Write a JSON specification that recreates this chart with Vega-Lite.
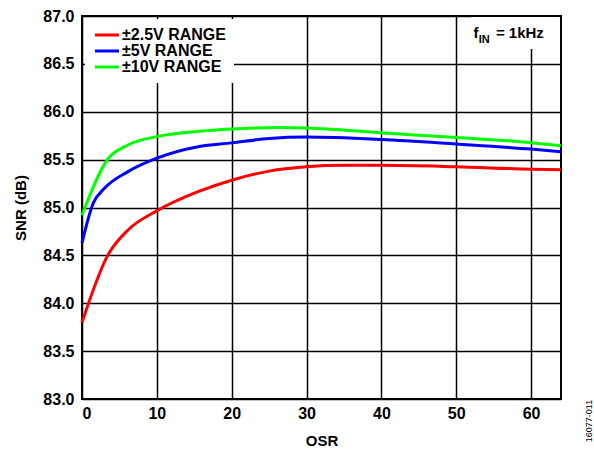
{
  "$schema": "https://vega.github.io/schema/vega-lite/v6.json",
  "width": 479,
  "height": 383,
  "autosize": "none",
  "padding": {"left": 82, "top": 16, "right": 33, "bottom": 53},
  "config": {
    "font": "Liberation Sans",
    "view": {"stroke": "#000000", "strokeWidth": 2},
    "axis": {
      "domain": false, "ticks": false, "grid": true, "gridColor": "#000000", "gridWidth": 1.5, "gridOpacity": 1,
      "labelFont": "Liberation Sans", "labelFontWeight": "bold", "labelFontSize": 16, "labelColor": "#000000",
      "titleFont": "Liberation Sans", "titleFontWeight": "bold", "titleFontSize": 15, "titleColor": "#000000"
    }
  },
  "datasets": {
    "snr": [
      {"osr": 0, "snr": 83.80, "range": "±2.5V RANGE"},
      {"osr": 3.4, "snr": 84.495, "range": "±2.5V RANGE"},
      {"osr": 6.15, "snr": 84.765, "range": "±2.5V RANGE"},
      {"osr": 10, "snr": 84.965, "range": "±2.5V RANGE"},
      {"osr": 15.5, "snr": 85.165, "range": "±2.5V RANGE"},
      {"osr": 20, "snr": 85.285, "range": "±2.5V RANGE"},
      {"osr": 25, "snr": 85.38, "range": "±2.5V RANGE"},
      {"osr": 30, "snr": 85.425, "range": "±2.5V RANGE"},
      {"osr": 35, "snr": 85.44, "range": "±2.5V RANGE"},
      {"osr": 40, "snr": 85.44, "range": "±2.5V RANGE"},
      {"osr": 50, "snr": 85.425, "range": "±2.5V RANGE"},
      {"osr": 60, "snr": 85.40, "range": "±2.5V RANGE"},
      {"osr": 64, "snr": 85.395, "range": "±2.5V RANGE"},
      {"osr": 0, "snr": 84.63, "range": "±5V RANGE"},
      {"osr": 1.5, "snr": 85.045, "range": "±5V RANGE"},
      {"osr": 3.0, "snr": 85.20, "range": "±5V RANGE"},
      {"osr": 6.15, "snr": 85.375, "range": "±5V RANGE"},
      {"osr": 10, "snr": 85.515, "range": "±5V RANGE"},
      {"osr": 15.5, "snr": 85.635, "range": "±5V RANGE"},
      {"osr": 20, "snr": 85.675, "range": "±5V RANGE"},
      {"osr": 25, "snr": 85.72, "range": "±5V RANGE"},
      {"osr": 30, "snr": 85.735, "range": "±5V RANGE"},
      {"osr": 40, "snr": 85.71, "range": "±5V RANGE"},
      {"osr": 50, "snr": 85.663, "range": "±5V RANGE"},
      {"osr": 60, "snr": 85.61, "range": "±5V RANGE"},
      {"osr": 64, "snr": 85.583, "range": "±5V RANGE"},
      {"osr": 0, "snr": 84.92, "range": "±10V RANGE"},
      {"osr": 3.4, "snr": 85.50, "range": "±10V RANGE"},
      {"osr": 6.15, "snr": 85.653, "range": "±10V RANGE"},
      {"osr": 10, "snr": 85.74, "range": "±10V RANGE"},
      {"osr": 15.5, "snr": 85.795, "range": "±10V RANGE"},
      {"osr": 20, "snr": 85.82, "range": "±10V RANGE"},
      {"osr": 26, "snr": 85.835, "range": "±10V RANGE"},
      {"osr": 30, "snr": 85.83, "range": "±10V RANGE"},
      {"osr": 40, "snr": 85.78, "range": "±10V RANGE"},
      {"osr": 50, "snr": 85.73, "range": "±10V RANGE"},
      {"osr": 60, "snr": 85.677, "range": "±10V RANGE"},
      {"osr": 64, "snr": 85.645, "range": "±10V RANGE"}
    ]
  },
  "layer": [
    {
      "data": {"values": [{"x1": 52, "x2": 63.85, "y1": 86.655, "y2": 86.99}]},
      "mark": {"type": "rect", "fill": "#ffffff"},
      "encoding": {
        "x": {"field": "x1", "type": "quantitative", "scale": {"domain": [0, 64], "nice": false}},
        "x2": {"field": "x2"},
        "y": {"field": "y1", "type": "quantitative", "scale": {"domain": [83, 87], "nice": false}},
        "y2": {"field": "y2"}
      }
    },
    {
      "data": {"name": "snr"},
      "mark": {"type": "line", "strokeWidth": 3, "interpolate": "monotone"},
      "encoding": {
        "x": {"field": "osr", "type": "quantitative", "title": "OSR",
              "scale": {"domain": [0, 64], "nice": false},
              "axis": {"values": [0, 10, 20, 30, 40, 50, 60], "labelPadding": 6, "titlePadding": 12}},
        "y": {"field": "snr", "type": "quantitative", "title": "SNR (dB)",
              "scale": {"domain": [83, 87], "nice": false, "zero": false},
              "axis": {"values": [83, 83.5, 84, 84.5, 85, 85.5, 86, 86.5, 87], "format": ".1f", "labelPadding": 8, "titlePadding": 14}},
        "color": {"field": "range", "type": "nominal",
                  "scale": {"domain": ["±2.5V RANGE", "±5V RANGE", "±10V RANGE"], "range": ["#ff0000", "#0000ff", "#00ff00"]},
                  "legend": {"title": null, "orient": "top-left", "offset": 3, "fillColor": "#ffffff", "padding": 8,
                             "symbolType": "M-2,0H2", "symbolStrokeWidth": 3, "symbolSize": 144, "symbolFillColor": "transparent",
                             "symbolOffset": 6,
                             "labelFont": "Liberation Sans", "labelFontWeight": "bold", "labelFontSize": 16, "labelColor": "#000000",
                             "labelOffset": 7, "rowPadding": 0}}
      }
    },
    {
      "data": {"values": [{}]},
      "mark": {"type": "text", "text": "f", "fontSize": 15, "fontWeight": "bold", "align": "left", "baseline": "alphabetic"},
      "encoding": {"x": {"datum": 52.3, "type": "quantitative"}, "y": {"datum": 86.767, "type": "quantitative"}}
    },
    {
      "data": {"values": [{}]},
      "mark": {"type": "text", "text": "IN", "fontSize": 11, "fontWeight": "bold", "align": "left", "baseline": "alphabetic"},
      "encoding": {"x": {"datum": 53.0, "type": "quantitative"}, "y": {"datum": 86.72, "type": "quantitative"}}
    },
    {
      "data": {"values": [{}]},
      "mark": {"type": "text", "text": "= 1kHz", "fontSize": 15, "fontWeight": "bold", "align": "left", "baseline": "alphabetic"},
      "encoding": {"x": {"datum": 55.3, "type": "quantitative"}, "y": {"datum": 86.767, "type": "quantitative"}}
    },
    {
      "data": {"values": [{}]},
      "mark": {"type": "text", "text": "16077-011", "fontSize": 9, "angle": 270, "align": "center", "baseline": "middle"},
      "encoding": {"x": {"datum": 67.7, "type": "quantitative"}, "y": {"datum": 82.77, "type": "quantitative"}}
    }
  ]
}
